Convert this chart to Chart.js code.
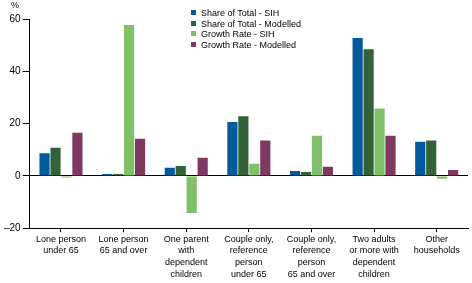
<!DOCTYPE html>
<html lang="en">
<head>
  <meta charset="UTF-8">
  <title>Household types</title>
  <script src="https://cdn.jsdelivr.net/npm/chart.js"></script>
  <style>
    body { margin: 0; background: #fff; font-family: "Liberation Sans", Arial, sans-serif; }
    #wrap { position: relative; width: 472px; height: 283px; }
    #unit { position: absolute; left: 11px; top: 0px; font-size: 9px; }
    #legend { position: absolute; left: 191px; top: 8px; font-size: 9px; line-height: 10.5px; }
    #legend div { white-space: nowrap; }
    #legend span { display: inline-block; width: 5px; height: 5px; margin-right: 5px; vertical-align: 1px; }
  </style>
</head>
<body>
  <div id="wrap">
    <canvas id="chart" width="472" height="283"></canvas>
    <div id="unit">%</div>
    <div id="legend"></div>
  </div>

  <script>
    const categories = [
      ['Lone person', 'under 65'],
      ['Lone person', '65 and over'],
      ['One parent', 'with', 'dependent', 'children'],
      ['Couple only,', 'reference', 'person', 'under 65'],
      ['Couple only,', 'reference', 'person', '65 and over'],
      ['Two adults', 'or more with', 'dependent', 'children'],
      ['Other', 'households']
    ];
    const shareSIH = [8.7, 0.7, 3.1, 20.6, 1.9, 52.7, 13.1];
    const shareModelled = [10.8, 0.7, 3.8, 22.8, 1.5, 48.4, 13.5];
    const growthSIH = [-0.6, 57.7, -14.2, 4.6, 15.4, 25.8, -1.1];
    const growthModelled = [16.5, 14.2, 6.9, 13.5, 3.5, 15.4, 2.3];
    const yTicks = [-20, 0, 20, 40, 60];

    const seriesNames = ['Share of Total - SIH', 'Share of Total - Modelled', 'Growth Rate - SIH', 'Growth Rate - Modelled'];
    const seriesColors = ['#005a9c', '#336239', '#80c068', '#7f3860'];
    const seriesData = [shareSIH, shareModelled, growthSIH, growthModelled];

    const datasets = seriesNames.map((name, i) => ({
      label: name,
      data: seriesData[i],
      backgroundColor: seriesColors[i],
      borderWidth: 0,
      categoryPercentage: 0.7,
      barPercentage: 0.93
    }));

    // legend as plain html, top right
    document.getElementById('legend').innerHTML = seriesNames
      .map((n, i) => '<div><span style="background:' + seriesColors[i] + '"></span>' + n + '</div>')
      .join('');

    const font = { family: '"Liberation Sans", Arial, sans-serif', size: 9 };

    new Chart(document.getElementById('chart'), {
      type: 'bar',
      data: { labels: categories, datasets: datasets },
      options: {
        responsive: false,
        animation: false,
        layout: { padding: { top: 19, right: 4, bottom: 2, left: 2 } },
        plugins: {
          legend: { display: false },
          tooltip: { enabled: false }
        },
        scales: {
          x: {
            grid: { drawOnChartArea: false, offset: false, tickLength: 4, color: '#000' },
            border: { color: '#000', width: 1 },
            ticks: {
              color: '#000',
              font: Object.assign({ lineHeight: 1.3 }, font),
              maxRotation: 0,
              autoSkip: false,
              padding: 1
            }
          },
          y: {
            min: yTicks[0],
            max: yTicks[yTicks.length - 1],
            z: 1,
            afterBuildTicks: scale => { scale.ticks = yTicks.map(v => ({ value: v })); },
            grid: {
              color: c => c.tick && c.tick.value === 0 ? '#000' : (c.tick && c.tick.value === -20 ? 'rgba(0,0,0,0)' : '#fff'),
              tickColor: '#000',
              tickLength: 7,
              lineWidth: 1
            },
            border: { color: '#000', width: 1 },
            ticks: {
              color: '#000',
              font: { family: font.family, size: 10 },
              padding: 2,
              callback: v => v < 0 ? '\u2013' + Math.abs(v) : String(v)
            }
          }
        }
      }
    });
  </script>
</body>
</html>
